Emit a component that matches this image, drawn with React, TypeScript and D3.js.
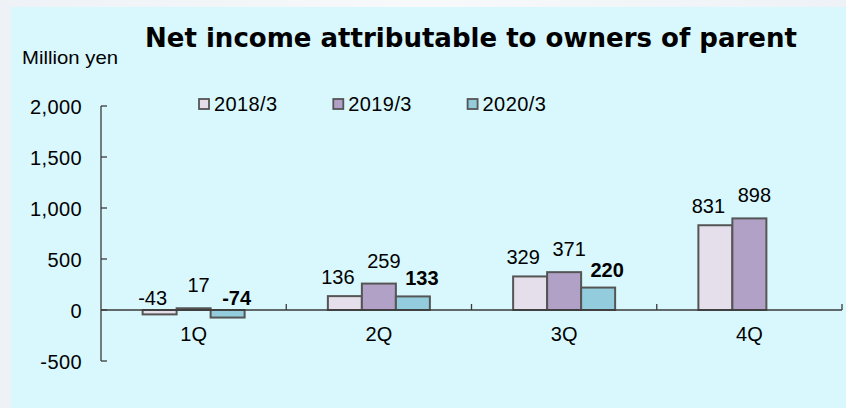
import React from "react";
import * as d3 from "d3";

const categories = ["1Q", "2Q", "3Q", "4Q"];
const seriesNames = ["2018/3", "2019/3", "2020/3"];
const values2018 = [-43, 136, 329, 831];
const values2019 = [17, 259, 371, 898];
const values2020: (number | null)[] = [-74, 133, 220, null];
const yTicks = [-500, 0, 500, 1000, 1500, 2000];
const titleText = "Net income attributable to owners of parent";
const unitText = "Million yen";

const seriesValues = [values2018, values2019, values2020];
const colors = ["#e5deeb", "#b2a1c7", "#93cddd"];
const labelDx = [-7, 5, 9];
const labelDy = [12, 16, 11];

const W = 846;
const H = 408;
const FONT = "'Liberation Sans', Arial, sans-serif";

export default function App() {
  const y = d3.scaleLinear().domain([-500, 2000]).range([361, 106]);
  const x = d3.scaleBand<string>().domain(categories).range([101, 842]).paddingInner(0).paddingOuter(0);
  const groupW = 102;
  const xs = d3
    .scaleBand<string>()
    .domain(seriesNames)
    .range([-groupW / 2, groupW / 2])
    .paddingInner(0);
  const fmt0 = d3.format(",");
  const fmt = (v: number) => fmt0(v).replace("\u2212", "-");
  const y0 = y(0);
  const axisColor = "#3a3a3a";

  return (
    <svg
      width={W}
      height={H}
      style={{ position: "absolute", left: 0, top: 0, display: "block" }}
    >
      <defs>
        <linearGradient id="outer" x1="0" y1="0" x2="1" y2="0">
          <stop offset="0" stopColor="#eef2f6" />
          <stop offset="0.5" stopColor="#f7f9fb" />
          <stop offset="1" stopColor="#eef2f6" />
        </linearGradient>
      </defs>
      <rect x={0} y={0} width={W} height={H} fill="url(#outer)" />
      <rect x={11} y={7} width={W - 11} height={H - 7} fill="#d8f8fe" />

      {/* title */}
      <text
        x={145}
        y={47}
        fontFamily="'DejaVu Sans', Verdana, sans-serif"
        fontWeight="bold"
        fontSize={26.5}
        textLength={652}
        lengthAdjust="spacingAndGlyphs"
        fill="#000"
      >
        {titleText}
      </text>
      <text x={22} y={64} fontFamily={FONT} fontSize={19} textLength={96} lengthAdjust="spacingAndGlyphs" fill="#000">
        {unitText}
      </text>

      {/* legend */}
      {seriesNames.map((s, i) => {
        const lx = 199 + i * 134.3;
        return (
          <g key={s}>
            <rect x={lx} y={99} width={10} height={10} fill={colors[i]} stroke="#555" strokeWidth={1.8} />
            <text x={lx + 15} y={111} fontFamily={FONT} fontSize={20} fill="#000" letterSpacing={0.4}>
              {s}
            </text>
          </g>
        );
      })}

      {/* y axis */}
      <line x1={101} x2={101} y1={y(2000)} y2={y(-500)} stroke={axisColor} strokeWidth={1.3} />
      {yTicks.map((t) => (
        <g key={t}>
          <line x1={101} x2={107} y1={y(t)} y2={y(t)} stroke={axisColor} strokeWidth={1.3} />
          <text
            x={82}
            y={y(t) + 8}
            textAnchor="end"
            fontFamily={FONT}
            fontSize={20}
            letterSpacing={0.4}
            fill="#000"
          >
            {fmt(t)}
          </text>
        </g>
      ))}

      {/* bars */}
      {categories.map((c, ci) => {
        const cx = (x(c) as number) + x.bandwidth() / 2;
        return (
          <g key={c}>
            {seriesNames.map((s, si) => {
              const v = seriesValues[si][ci];
              if (v === null || v === undefined) return null;
              const bx = cx + (xs(s) as number);
              const top = Math.min(y(v), y0);
              const h = Math.abs(y(v) - y0);
              return (
                <rect
                  key={s}
                  x={bx}
                  y={top}
                  width={xs.bandwidth()}
                  height={Math.max(h, 0.5)}
                  fill={colors[si]}
                  stroke="#555"
                  strokeWidth={2}
                />
              );
            })}
          </g>
        );
      })}

      {/* x axis */}
      <line x1={101} x2={842} y1={y0} y2={y0} stroke={axisColor} strokeWidth={1.3} />
      {categories.map((c) => {
        const bx = (x(c) as number) + x.bandwidth();
        return <line key={c} x1={bx} x2={bx} y1={y0} y2={y0 - 6} stroke={axisColor} strokeWidth={1.3} />;
      })}
      {categories.map((c) => (
        <text
          key={c}
          x={(x(c) as number) + x.bandwidth() / 2}
          y={341}
          textAnchor="middle"
          fontFamily={FONT}
          fontSize={20}
          fill="#000"
        >
          {c}
        </text>
      ))}

      {/* value labels */}
      {categories.map((c, ci) => {
        const cx = (x(c) as number) + x.bandwidth() / 2;
        return seriesNames.map((s, si) => {
          const v = seriesValues[si][ci];
          if (v === null || v === undefined) return null;
          const bx = cx + (xs(s) as number) + xs.bandwidth() / 2;
          const by = v >= 0 ? y(v) - labelDy[si] : y0 - 5;
          return (
            <text
              key={c + s}
              x={bx + labelDx[si]}
              y={by}
              textAnchor="middle"
              fontFamily={FONT}
              fontSize={20}
              fontWeight={si === 2 ? "bold" : "normal"}
              fill="#000"
            >
              {fmt(v)}
            </text>
          );
        });
      })}
    </svg>
  );
}
